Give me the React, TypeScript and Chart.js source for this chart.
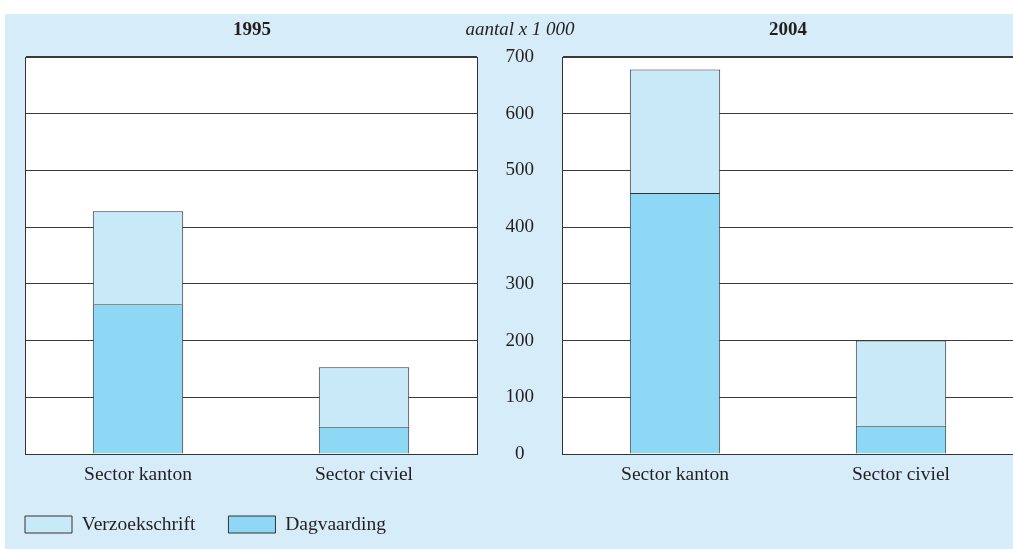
import React, { useEffect, useRef } from 'react';
import { Chart, registerables } from 'chart.js';

Chart.register(...registerables);

const categories = ['Sector kanton', 'Sector civiel'];
const seriesNames = ['Dagvaarding', 'Verzoekschrift'];
const dagvaarding1995 = [264, 48];
const verzoekschrift1995 = [164, 105];
const dagvaarding2004 = [460, 50];
const verzoekschrift2004 = [218, 150];
const yTickValues = [0, 100, 200, 300, 400, 500, 600, 700];
const panelTitles = ['1995', '2004'];
const unitLabel = 'aantal x 1 000';

const FONT = "'Liberation Serif', 'Times New Roman', serif";
const TEXT = '#231f20';
const EDGE = '#333333';
const GRID = '#3a3a3a';
const LIGHT = '#c7e9f8';
const DARK = '#8ed7f5';
const PANEL_BG = '#d6ecf9';

const whiteArea = {
  id: 'whiteArea',
  beforeDraw(chart: any) {
    const { ctx, chartArea } = chart;
    ctx.save();
    ctx.fillStyle = '#ffffff';
    ctx.fillRect(chartArea.left, chartArea.top, chartArea.right - chartArea.left, chartArea.bottom - chartArea.top);
    ctx.restore();
  },
};

const unitPlugin = {
  id: 'unitLabel',
  afterDraw(chart: any) {
    const { ctx, chartArea } = chart;
    ctx.save();
    ctx.font = `italic 19px ${FONT}`;
    ctx.fillStyle = TEXT;
    ctx.textAlign = 'center';
    ctx.textBaseline = 'middle';
    ctx.fillText(unitLabel, chartArea.left - 42, 30);
    ctx.restore();
  },
};

function makeDatasets(dag: number[], verz: number[]) {
  return [
    { label: seriesNames[0], data: dag, backgroundColor: DARK, borderColor: EDGE, borderWidth: 1, stack: 's' },
    { label: seriesNames[1], data: verz, backgroundColor: LIGHT, borderColor: EDGE, borderWidth: 1, stack: 's' },
  ];
}

const gridWidth = (c: any) => (c.tick && c.tick.value === yTickValues[yTickValues.length - 1] ? 2 : 1);

const titleOptions = (text: string) => ({
  display: true,
  text,
  color: TEXT,
  font: { family: FONT, size: 19, weight: 'bold' },
  padding: { top: 18.6, bottom: 15.6 },
});

export default function App() {
  const leftRef = useRef<HTMLCanvasElement>(null);
  const rightRef = useRef<HTMLCanvasElement>(null);

  useEffect(() => {
    const left = new Chart(leftRef.current as HTMLCanvasElement, {
      type: 'bar',
      data: { labels: categories, datasets: makeDatasets(dagvaarding1995, verzoekschrift1995) },
      options: {
        responsive: false,
        animation: false,
        categoryPercentage: 1,
        barPercentage: 0.4,
        layout: { padding: { left: -8, right: 0, top: 0, bottom: 4.75 } },
        plugins: {
          title: titleOptions(panelTitles[0]),
          legend: {
            display: true,
            position: 'bottom',
            align: 'start',
            reverse: true,
            labels: { boxWidth: 47, boxHeight: 17, padding: 33, color: TEXT, font: { family: FONT, size: 19.5 } },
          },
          tooltip: { enabled: false },
        },
        scales: {
          x: {
            stacked: true,
            grid: { display: false, drawTicks: false },
            border: { display: true, color: EDGE, width: 1 },
            ticks: { color: TEXT, font: { family: FONT, size: 19.5 }, padding: 9.3 },
            afterFit: (s: any) => { s.height = 27.75; },
          },
          y: {
            stacked: true,
            position: 'left',
            min: 0,
            max: 700,
            ticks: { display: false, stepSize: 100 },
            grid: { color: GRID, lineWidth: gridWidth, drawTicks: false },
            border: { display: true, color: EDGE, width: 1 },
            afterFit: (s: any) => { s.width = 33; },
          },
          y2: {
            position: 'right',
            min: 0,
            max: 700,
            ticks: { display: false },
            grid: { display: false, drawTicks: false },
            border: { display: true, color: EDGE, width: 1 },
            afterFit: (s: any) => { s.width = 35; },
          },
        },
      } as any,
      plugins: [whiteArea],
    });

    const right = new Chart(rightRef.current as HTMLCanvasElement, {
      type: 'bar',
      data: { labels: categories, datasets: makeDatasets(dagvaarding2004, verzoekschrift2004) },
      options: {
        responsive: false,
        animation: false,
        categoryPercentage: 1,
        barPercentage: 0.4,
        layout: { padding: { left: 42, right: 0, top: 0, bottom: 0 } },
        plugins: {
          title: titleOptions(panelTitles[1]),
          legend: { display: false },
          tooltip: { enabled: false },
        },
        scales: {
          x: {
            stacked: true,
            grid: { display: false, drawTicks: false },
            border: { display: true, color: EDGE, width: 1 },
            ticks: { color: TEXT, font: { family: FONT, size: 19.5 }, padding: 9.3 },
            afterFit: (s: any) => { s.height = 95; },
          },
          y: {
            stacked: true,
            position: 'left',
            min: 0,
            max: 700,
            ticks: {
              stepSize: 100,
              color: TEXT,
              font: { family: FONT, size: 19 },
              padding: 28,
              crossAlign: 'center',
            },
            afterBuildTicks: (s: any) => { s.ticks = yTickValues.map((v) => ({ value: v })); },
            grid: { color: GRID, lineWidth: gridWidth, drawTicks: false },
            border: { display: true, color: EDGE, width: 1 },
            afterFit: (s: any) => { s.width = 80; },
          },
          y2: {
            position: 'right',
            min: 0,
            max: 700,
            ticks: { display: false },
            grid: { display: false, drawTicks: false },
            border: { display: false },
            afterFit: (s: any) => { s.width = 80; },
          },
        },
      } as any,
      plugins: [whiteArea, unitPlugin],
    });

    return () => {
      left.destroy();
      right.destroy();
    };
  }, []);

  return (
    <div style={{ position: 'absolute', left: 0, top: 0, width: 1013, height: 549, overflow: 'hidden', background: '#ffffff' }}>
      <div style={{ position: 'absolute', left: 5, top: 14, width: 1008, height: 535, background: PANEL_BG }} />
      <canvas ref={leftRef} width={512} height={549} style={{ position: 'absolute', left: 0, top: 0 }} />
      <canvas ref={rightRef} width={654} height={549} style={{ position: 'absolute', left: 440, top: 0 }} />
    </div>
  );
}
